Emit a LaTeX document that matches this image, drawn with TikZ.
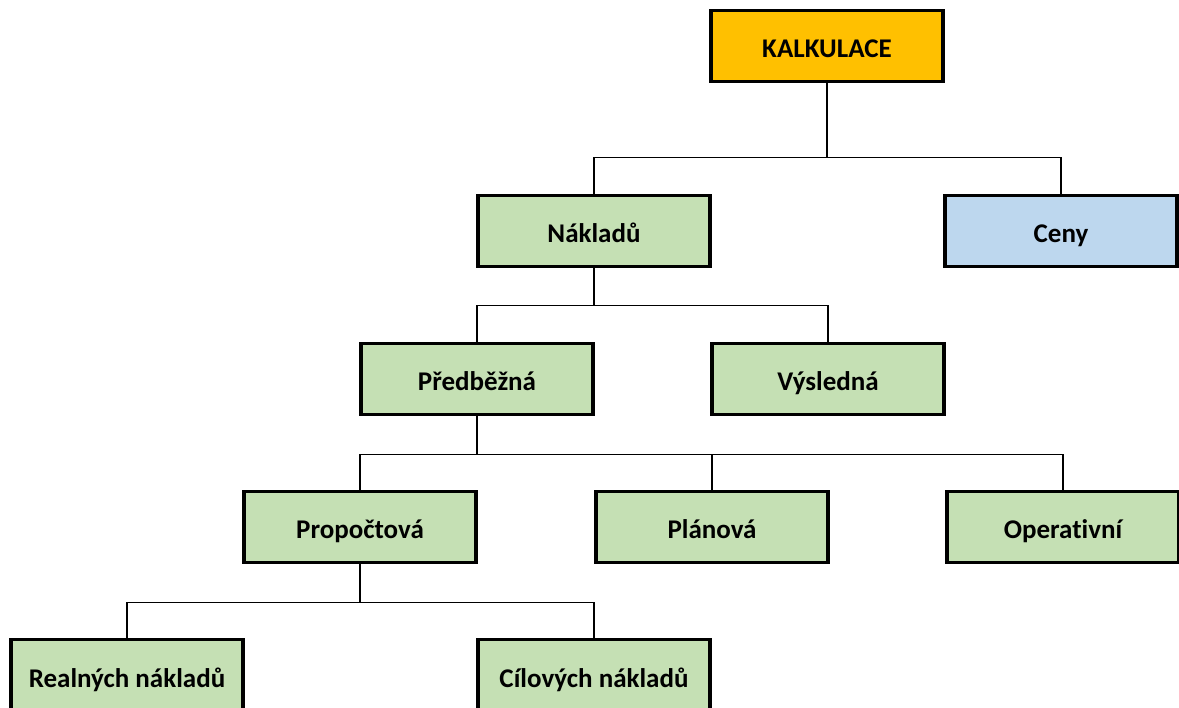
\documentclass[tikz,border=0pt]{standalone}
\usepackage{fontspec}
\setmainfont[Ligatures=NoCommon]{Carlito}
\usepackage{xcolor}
\definecolor{kalkgold}{HTML}{FFC000}
\definecolor{naklgreen}{HTML}{C5E0B4}
\definecolor{cenyblue}{HTML}{BDD7EE}

\begin{document}
\begin{tikzpicture}[x=1pt,y=-1pt,font=\fontsize{27}{32}\selectfont\bfseries,
  box/.style={draw=black,line width=3.8pt,minimum width=232pt,minimum height=71pt,inner sep=0pt,
    text height=24pt,text depth=0pt},
  conn/.style={line width=1.6pt}]
\useasboundingbox (0,0) rectangle (1179,708);
% boxes
\node[box,fill=kalkgold] (kalk) at (827,46) {KALKULACE};
\node[box,fill=naklgreen] (nakl) at (594,231) {Nákladů};
\node[box,fill=cenyblue] (ceny) at (1061,231) {Ceny};
\node[box,fill=naklgreen] (pred) at (477,379) {Předběžná};
\node[box,fill=naklgreen] (vysl) at (828,379) {Výsledná};
\node[box,fill=naklgreen] (prop) at (360,527) {Propočtová};
\node[box,fill=naklgreen] (plan) at (712,527) {Plánová};
\node[box,fill=naklgreen] (oper) at (1063,527) {Operativní};
\node[box,fill=naklgreen] (real) at (127,675) {Realných nákladů};
\node[box,fill=naklgreen] (cil) at (594,675) {Cílových nákladů};
% connectors
\draw[conn] (kalk.south) -- ++(0,74) -| (nakl.north);
\draw[conn] (kalk.south) -- ++(0,74) -| (ceny.north);
\draw[conn] (nakl.south) -- ++(0,37) -| (pred.north);
\draw[conn] (nakl.south) -- ++(0,37) -| (vysl.north);
\draw[conn] (pred.south) -- ++(0,38) -| (prop.north);
\draw[conn] (pred.south) -- ++(0,38) -| (plan.north);
\draw[conn] (pred.south) -- ++(0,38) -| (oper.north);
\draw[conn] (prop.south) -- ++(0,38) -| (real.north);
\draw[conn] (prop.south) -- ++(0,38) -| (cil.north);
\end{tikzpicture}
\end{document}
